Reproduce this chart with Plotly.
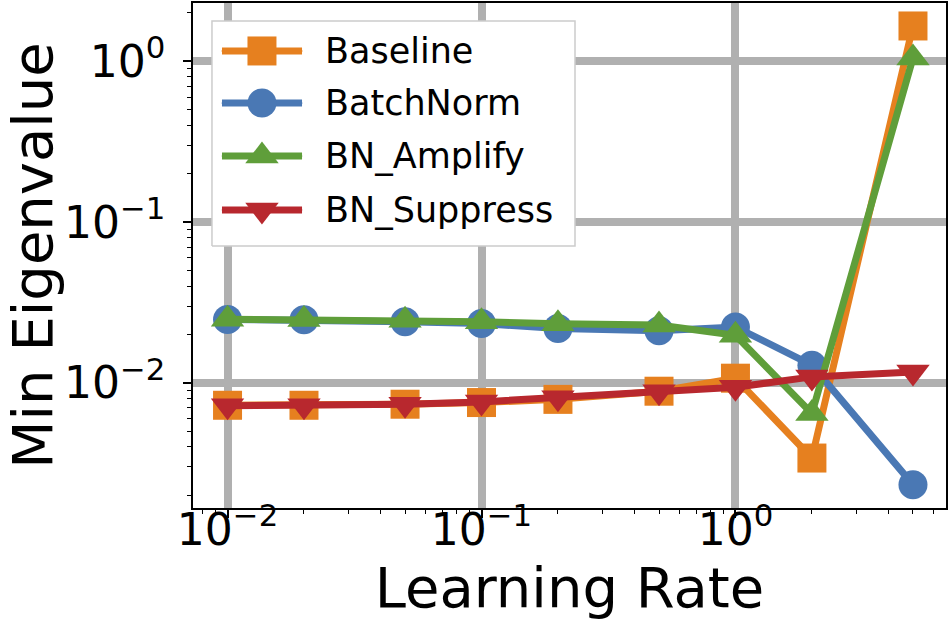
import plotly.graph_objects as go

# ---- data ----
learning_rates = [0.01, 0.02, 0.05, 0.1, 0.2, 0.5, 1.0, 2.0, 5.0]
series_names = ["Baseline", "BatchNorm", "BN_Amplify", "BN_Suppress"]
baseline = [0.00726, 0.00726, 0.00737, 0.00755, 0.0079, 0.00888, 0.0107, 0.00341, 1.66]
batchnorm = [0.0248, 0.0247, 0.0240, 0.0234, 0.0218, 0.0211, 0.0223, 0.0129, 0.00233]
bn_amplify = [0.0249, 0.0248, 0.0245, 0.0240, 0.0233, 0.0229, 0.0198, 0.00645, 1.05]
bn_suppress = [0.0072, 0.0072, 0.00737, 0.00762, 0.0081, 0.0088, 0.0094, 0.0109, 0.0117]
y_tick_vals = [0.01, 0.1, 1]
y_tick_text = ["10<sup>\u22122</sup>", "10<sup>\u22121</sup>", "10<sup>0</sup>"]
x_tick_vals = [0.01, 0.1, 1]
x_tick_text = ["10<sup>\u22122</sup>", "10<sup>\u22121</sup>", "10<sup>0</sup>"]

colors = ["#e6801f", "#4a78b4", "#5f9e3a", "#b8282e"]
symbols = ["square", "circle", "triangle-up", "triangle-down"]
sizes = [29, 29, 29, 29]
values = [baseline, batchnorm, bn_amplify, bn_suppress]

FONT = "DejaVu Sans"
fig = go.Figure()

for name, vals, c, s, sz in zip(series_names, values, colors, symbols, sizes):
    fig.add_trace(go.Scatter(
        x=learning_rates, y=vals, name=name, mode="lines+markers",
        line=dict(color=c, width=7),
        marker=dict(symbol=s, size=sz, color=c, opacity=1, line=dict(width=0)),
        showlegend=False,
    ))

# ---- legend box + entries, drawn in an overlay unit axis ----
box_x = [0.0252, 0.5073]
box_y = [0.5188, 0.9644]
fig.add_trace(go.Scatter(
    x=[box_x[0], box_x[1], box_x[1], box_x[0], box_x[0]],
    y=[box_y[0], box_y[0], box_y[1], box_y[1], box_y[0]],
    mode="lines", fill="toself", fillcolor="white",
    line=dict(color="#cccccc", width=1.5),
    xaxis="x2", yaxis="y2", showlegend=False, hoverinfo="skip",
))

leg_rows = [0.905, 0.802, 0.697, 0.590]
for name, c, s, sz, yy in zip(series_names, colors, symbols, sizes, leg_rows):
    fig.add_trace(go.Scatter(
        x=[0.0385, 0.0916, 0.1448], y=[yy, yy, yy], mode="lines+markers",
        line=dict(color=c, width=7),
        marker=dict(symbol=s, size=[1, sz, 1], color=c, opacity=1, line=dict(width=0)),
        xaxis="x2", yaxis="y2", showlegend=False, hoverinfo="skip",
    ))
    fig.add_annotation(
        x=0.1726, y=yy, xref="x2", yref="y2", text=name, showarrow=False,
        xanchor="left", yanchor="middle",
        font=dict(family=FONT, size=35, color="black"),
    )

minor_vals = [m * 10.0 ** e for e in range(-4, 2) for m in range(2, 10)]

axis_common = dict(
    type="log", showline=True, linecolor="black", linewidth=1.8, mirror=True,
    ticks="outside", ticklen=8, tickwidth=1.5, tickcolor="black",
    showgrid=True, gridcolor="#b0b0b0", gridwidth=7.5, zeroline=False,
    automargin=True,
    tickfont=dict(family=FONT, size=44, color="black"),
    minor=dict(tickmode="array", tickvals=minor_vals, ticks="outside",
               ticklen=4, tickwidth=1.2, tickcolor="black", showgrid=False),
)

fig.update_layout(
    width=951, height=634,
    margin=dict(l=193, r=5, t=3, b=126, autoexpand=False),
    paper_bgcolor="white", plot_bgcolor="white",
    font=dict(family=FONT, color="black"),
    xaxis=dict(**axis_common, range=[-2.136, 0.829], tickmode="array",
               tickvals=x_tick_vals, ticktext=x_tick_text, ticklabelstandoff=-26,
               title=dict(text="Learning Rate", font=dict(family=FONT, size=56), standoff=6)),
    yaxis=dict(**axis_common, range=[-2.778, 0.363], tickmode="array",
               tickvals=y_tick_vals, ticktext=y_tick_text, ticklabelstandoff=9,
               title=dict(text="Min Eigenvalue", font=dict(family=FONT, size=56), standoff=22)),
    xaxis2=dict(overlaying="x", range=[0, 1], visible=False, fixedrange=True),
    yaxis2=dict(overlaying="y", range=[0, 1], visible=False, fixedrange=True),
    showlegend=False,
)

fig.write_html(
    "out.html",
    config={"displayModeBar": False},
    post_script="document.body.style.margin='0';document.body.style.overflow='hidden';",
)
